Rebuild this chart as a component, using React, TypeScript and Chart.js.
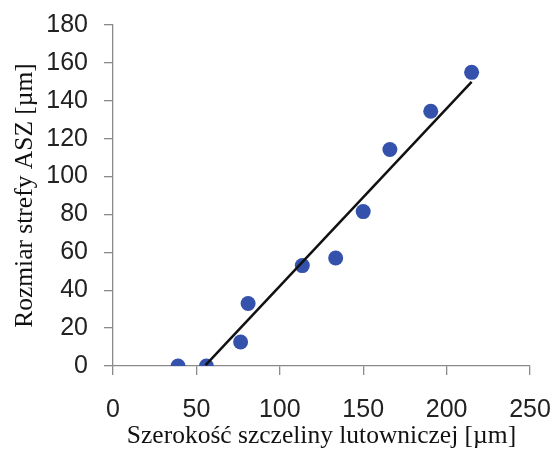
import React, { useEffect, useRef } from "react";
import { Chart, registerables } from "chart.js";

Chart.register(...registerables);

// Measured gap width [µm] vs. ASZ zone size [µm]
const gapWidth = [39, 56, 76.5, 81, 113.5, 133.5, 150, 166, 190.5, 215];
const zoneSize = [0, 0, 12.7, 33, 53, 57, 81.5, 114.3, 134.5, 155];

// Linear trend line end points
const trendX = [55.5, 215];
const trendY = [0.5, 150];

const xTicks = [0, 50, 100, 150, 200, 250];
const yTicks = [0, 20, 40, 60, 80, 100, 120, 140, 160, 180];

const xTitle = "Szerokość szczeliny lutowniczej [µm]";
const yTitle = "Rozmiar strefy ASZ [µm]";

export default function App() {
  const ref = useRef<HTMLCanvasElement | null>(null);

  useEffect(() => {
    if (!ref.current) return;
    const axisColor = "#8a8a8a";
    const chart = new Chart(ref.current, {
      type: "scatter",
      data: {
        datasets: [
          {
            type: "line",
            data: trendX.map((x, i) => ({ x, y: trendY[i] })),
            borderColor: "#111111",
            borderWidth: 2.5,
            pointRadius: 0,
            fill: false,
          },
          {
            data: gapWidth.map((x, i) => ({ x, y: zoneSize[i] })),
            backgroundColor: "#3452ab",
            borderColor: "#3452ab",
            borderWidth: 0,
            pointRadius: 7.5,
          },
        ],
      },
      options: {
        animation: false,
        responsive: false,
        maintainAspectRatio: false,
        layout: { padding: { left: 0, right: 25, top: 25, bottom: 0 } },
        plugins: { legend: { display: false }, tooltip: { enabled: false } },
        scales: {
          x: {
            type: "linear",
            min: 0,
            max: 250,
            afterBuildTicks: (s: any) => {
              s.ticks = xTicks.map((v) => ({ value: v }));
            },
            afterFit: (s: any) => {
              s.height = 90;
              s.paddingRight = 0;
              s.paddingLeft = 0;
            },
            grid: {
              drawOnChartArea: false,
              drawTicks: true,
              tickLength: 9,
              color: axisColor,
              lineWidth: 1.3,
            },
            border: { display: true, color: axisColor, width: 1.3 },
            ticks: {
              padding: 20,
              color: "#222222",
              font: { family: "'Liberation Sans', Arial, sans-serif", size: 25 },
              maxRotation: 0,
            },
            title: {
              display: true,
              text: xTitle,
              color: "#111111",
              font: { family: "'Liberation Serif', 'Times New Roman', serif", size: 25.5 },
              padding: { top: 0, bottom: 4 },
            },
          },
          y: {
            type: "linear",
            min: 0,
            max: 180,
            afterBuildTicks: (s: any) => {
              s.ticks = yTicks.map((v) => ({ value: v }));
            },
            afterFit: (s: any) => {
              s.width = 113;
              s.paddingTop = 0;
              s.paddingBottom = 0;
            },
            grid: {
              drawOnChartArea: false,
              drawTicks: true,
              tickLength: 9,
              color: axisColor,
              lineWidth: 1.3,
            },
            border: { display: true, color: axisColor, width: 1.3 },
            ticks: {
              padding: 16,
              color: "#222222",
              font: { family: "'Liberation Sans', Arial, sans-serif", size: 25 },
            },
            title: {
              display: true,
              text: yTitle,
              color: "#111111",
              font: { family: "'Liberation Serif', 'Times New Roman', serif", size: 25.5 },
              padding: { top: 10, bottom: 0 },
            },
          },
        },
      },
    });
    return () => chart.destroy();
  }, []);

  return (
    <div style={{ position: "fixed", left: 0, top: 0, width: 555, height: 456, background: "#fff" }}>
      <canvas ref={ref} width={555} height={456} style={{ display: "block" }} />
    </div>
  );
}
